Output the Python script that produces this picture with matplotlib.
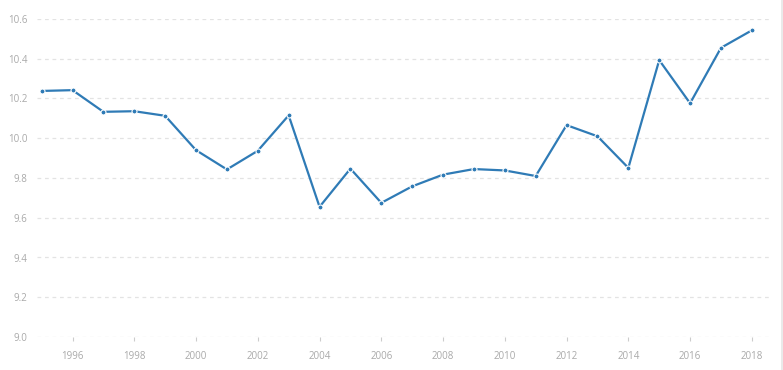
import matplotlib.pyplot as plt
from matplotlib.lines import Line2D

years = list(range(1995, 2019))
values = [10.238, 10.242, 10.133, 10.136, 10.113, 9.940, 9.843, 9.937, 10.115,
          9.655, 9.847, 9.675, 9.758, 9.817, 9.845, 9.838, 9.810, 10.066,
          10.010, 9.851, 10.393, 10.176, 10.455, 10.543]
xticks = list(range(1996, 2019, 2))
yticks = [9.0, 9.2, 9.4, 9.6, 9.8, 10.0, 10.2, 10.4, 10.6]

plt.rcParams['font.family'] = ['Open Sans', 'DejaVu Sans']

fig = plt.figure(figsize=(7.83, 3.70), dpi=100)
ax = fig.add_axes([37 / 783, 1 - 337 / 370, (771 - 37) / 783, (337 - 19) / 370])

ax.plot(years, values, color='#2f7bb6', linewidth=1.6, marker='o',
        markersize=3.6, markerfacecolor='#2f7bb6', markeredgecolor='white',
        markeredgewidth=0.8, zorder=3)

ax.set_xlim(1994.85, 2018.62)
ax.set_ylim(9.0, 10.6)
ax.set_xticks(xticks)
ax.set_yticks(yticks)
ax.set_yticklabels([f"{v:.1f}" for v in yticks])

for v in yticks:
    ax.axhline(v, color='#e3e3e3', linewidth=0.9, linestyle=(0, (3, 3)), zorder=1)

for s in ax.spines.values():
    s.set_visible(False)

ax.tick_params(axis='y', length=0, pad=7, labelsize=7, labelcolor='#a9a9a9')
ax.tick_params(axis='x', length=3, width=0.8, color='#cccccc', direction='out',
               pad=7, labelsize=7, labelcolor='#a9a9a9')

fig.add_artist(Line2D([781.5 / 783, 781.5 / 783], [0, 1], color='#e6e6e6',
                      linewidth=1.2, transform=fig.transFigure))

fig.savefig('out.png', dpi=100)
